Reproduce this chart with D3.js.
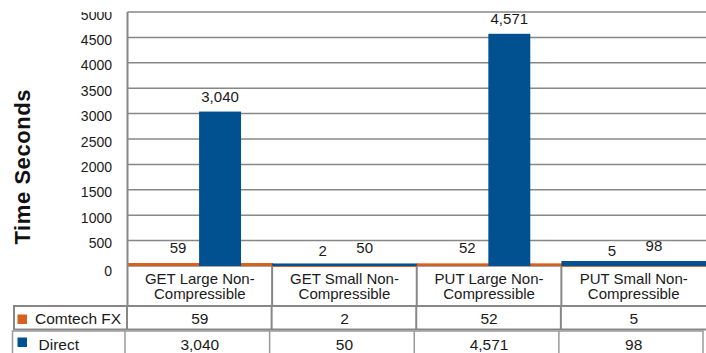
<!DOCTYPE html>
<html>
<head>
<meta charset="utf-8">
<script src="https://cdn.jsdelivr.net/npm/d3@7"></script>
<style>
  body { margin: 0; background: #fff; }
  text { font-family: "Liberation Sans", Arial, sans-serif; fill: #1a1a1a; }
</style>
</head>
<body>
<svg id="chart" width="706" height="353"></svg>
<script>
// chart data
var categories = ["GET Large Non-Compressible", "GET Small Non-Compressible",
                  "PUT Large Non-Compressible", "PUT Small Non-Compressible"];
var seriesNames = ["Comtech FX", "Direct"];
var comtechValues = [59, 2, 52, 5];
var directValues = [3040, 50, 4571, 98];
var yTickValues = [0, 500, 1000, 1500, 2000, 2500, 3000, 3500, 4000, 4500, 5000];

var colorComtech = "#d6601d";
var colorDirect = "#01508f";
var gridGrey = "#878787";

var seriesColor = d3.scaleOrdinal().domain(seriesNames).range([colorComtech, colorDirect]);
var fmt = d3.format(",");

// layout
var plotLeft = 127.5, plotRight = 706, plotTop = 12, plotBottom = 266;
var headerBottom = 306, row1Bottom = 329.5, row2Top = 331;

var svg = d3.select("#chart");

var x = d3.scaleBand().domain(categories).range([plotLeft, plotRight]).padding(0);
var cw = x.bandwidth();
var xSub = d3.scaleBand().domain(seriesNames).range([cw * 0.205, cw * 0.785]);
var y = d3.scaleLinear().domain([0, 5000]).range([plotBottom, plotTop]);

// rows of data by category
var rows = categories.map(function (c, i) {
    return {cat: c, values: [
        {series: seriesNames[0], value: comtechValues[i]},
        {series: seriesNames[1], value: directValues[i]}
    ]};
});

// gridlines
svg.append("g").selectAll("line").data(yTickValues).join("line")
    .attr("x1", plotLeft).attr("x2", plotRight)
    .attr("y1", function (d) { return y(d); }).attr("y2", function (d) { return y(d); })
    .attr("stroke", gridGrey).attr("stroke-width", 1.5);

// tick labels, clipped at the top of the plot like the original
svg.append("clipPath").attr("id", "tickclip")
    .append("rect").attr("x", 0).attr("y", plotTop).attr("width", plotLeft).attr("height", 353);

svg.append("g").attr("clip-path", "url(#tickclip)")
    .selectAll("text").data(yTickValues).join("text")
    .attr("x", 112)
    .attr("y", function (d) { return y(d) + (d === 0 ? 4.5 : 2.5); })
    .attr("dominant-baseline", "central")
    .attr("text-anchor", "end")
    .style("font-size", "14px")
    .text(function (d) { return d; });

// y title
svg.append("text")
    .attr("transform", "translate(30,167) rotate(-90)")
    .attr("text-anchor", "middle")
    .attr("textLength", 155)
    .style("font-size", "22px")
    .style("font-weight", "bold")
    .style("fill", "#111")
    .text("Time Seconds");

var groups = svg.append("g").selectAll("g").data(rows).join("g")
    .attr("transform", function (d) { return "translate(" + x(d.cat) + ",0)"; });

// tiny values are drawn as full-width strips on the baseline
groups.selectAll("rect.strip")
    .data(function (d) {
        return d.values.filter(function (v) { return v.value < 100; })
            .sort(function (a, b) { return a.value - b.value; });
    })
    .join("rect").attr("class", "strip")
    .attr("x", 0).attr("width", cw + 1)
    .attr("y", function (d) { return y(d.value); })
    .attr("height", function (d) { return Math.max(1, plotBottom - y(d.value)); })
    .attr("fill", function (d) { return seriesColor(d.series); });

groups.selectAll("rect.bar")
    .data(function (d) { return d.values.filter(function (v) { return v.value >= 100; }); })
    .join("rect").attr("class", "bar")
    .attr("x", function (d) { return xSub(d.series); })
    .attr("width", xSub.bandwidth())
    .attr("y", function (d) { return y(d.value); })
    .attr("height", function (d) { return plotBottom - y(d.value); })
    .attr("fill", function (d) { return seriesColor(d.series); });

groups.selectAll("text.val")
    .data(function (d) { return d.values; })
    .join("text").attr("class", "val")
    .attr("x", function (d) { return xSub(d.series) + xSub.bandwidth() / 2; })
    .attr("y", function (d) { return y(d.value) - 10; })
    .attr("text-anchor", "middle")
    .style("font-size", "15px")
    .text(function (d) { return fmt(d.value); });

// data table
var table = svg.append("g").attr("fill", "none");

// axis line runs down through the header row
table.append("line")
    .attr("x1", plotLeft).attr("x2", plotLeft)
    .attr("y1", plotTop).attr("y2", headerBottom)
    .attr("stroke", gridGrey).attr("stroke-width", 2);

// header dividers
table.selectAll("line.hdiv").data(categories.slice(1)).join("line").attr("class", "hdiv")
    .attr("x1", function (d) { return x(d); }).attr("x2", function (d) { return x(d); })
    .attr("y1", plotBottom).attr("y2", headerBottom)
    .attr("stroke", gridGrey).attr("stroke-width", 2);

// header labels, two lines each
var headerText = svg.append("g").selectAll("g").data(categories).join("g");
headerText.selectAll("text")
    .data(function (d) {
        var parts = d.split("Non-");
        return [{t: parts[0] + "Non-", cat: d, yy: 284}, {t: parts[1], cat: d, yy: 298.5}];
    })
    .join("text")
    .attr("x", function (d) { return x(d.cat) + cw / 2; })
    .attr("y", function (d) { return d.yy; })
    .attr("text-anchor", "middle")
    .style("font-size", "15px")
    .text(function (d) { return d.t; });

// Comtech row
table.append("rect")
    .attr("x", 14).attr("y", headerBottom)
    .attr("width", plotRight - 14 + 2).attr("height", row1Bottom - headerBottom)
    .attr("stroke", gridGrey).attr("stroke-width", 2);
table.selectAll("line.r1").data(categories).join("line").attr("class", "r1")
    .attr("x1", function (d) { return x(d) - 0.5; }).attr("x2", function (d) { return x(d) - 0.5; })
    .attr("y1", headerBottom).attr("y2", row1Bottom)
    .attr("stroke", gridGrey).attr("stroke-width", 2);

// Direct row, drawn slightly offset like the original
var shift = -2.5;
table.append("path")
    .attr("d", "M12.5,353V" + row2Top + "H703V353")
    .attr("stroke", "#9a9a9a").attr("stroke-width", 1.5);
table.selectAll("line.r2").data(categories).join("line").attr("class", "r2")
    .attr("x1", function (d) { return x(d) + shift; }).attr("x2", function (d) { return x(d) + shift; })
    .attr("y1", row2Top).attr("y2", 353)
    .attr("stroke", "#9a9a9a").attr("stroke-width", 1.5);

var tableRows = [
    {series: seriesNames[0], values: comtechValues, yText: 324, yKey: 314.5, xText: 35},
    {series: seriesNames[1], values: directValues, yText: 349.5, yKey: 337.5, xText: 38.5}
];

var tr = svg.append("g").selectAll("g").data(tableRows).join("g");
tr.append("rect")
    .attr("x", 17.5).attr("y", function (d) { return d.yKey; })
    .attr("width", 9.5).attr("height", 9.5)
    .attr("fill", function (d) { return seriesColor(d.series); });
tr.append("text")
    .attr("x", function (d) { return d.xText; })
    .attr("y", function (d) { return d.yText; })
    .style("font-size", "15.5px")
    .text(function (d) { return d.series; });
tr.selectAll("text.cell")
    .data(function (d) {
        return d.values.map(function (v, i) { return {v: v, cat: categories[i], yText: d.yText}; });
    })
    .join("text").attr("class", "cell")
    .attr("x", function (d) { return x(d.cat) + cw / 2; })
    .attr("y", function (d) { return d.yText; })
    .attr("text-anchor", "middle")
    .style("font-size", "15.5px")
    .text(function (d) { return fmt(d.v); });
</script>
</body>
</html>
